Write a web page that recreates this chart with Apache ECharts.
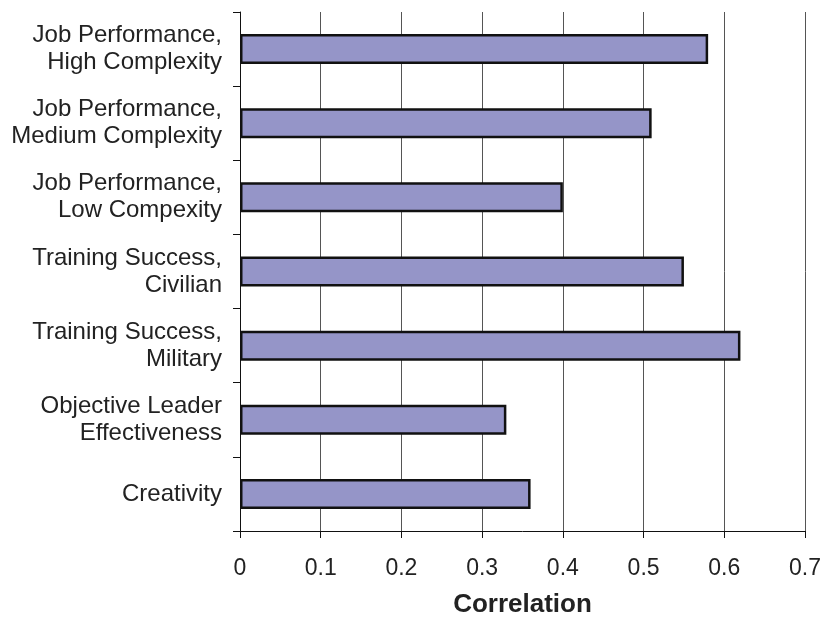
<!DOCTYPE html>
<html>
<head>
<meta charset="utf-8">
<script src="https://cdn.jsdelivr.net/npm/echarts@6/dist/echarts.min.js"></script>
<style>html,body{margin:0;padding:0;background:#fff}#c{width:822px;height:619px}</style>
</head>
<body>
<div id="c"></div>
<script>
const categories = [
  "Job Performance,\nHigh Complexity",
  "Job Performance,\nMedium Complexity",
  "Job Performance,\nLow Compexity",
  "Training Success,\nCivilian",
  "Training Success,\nMilitary",
  "Objective Leader\nEffectiveness",
  "Creativity"
];
const correlations = [0.58, 0.51, 0.40, 0.55, 0.62, 0.33, 0.36];
const xTicks = [0, 0.1, 0.2, 0.3, 0.4, 0.5, 0.6, 0.7];

const chart = echarts.init(document.getElementById('c'));
chart.setOption({
  animation: false,
  backgroundColor: '#fff',
  grid: { left: 240, right: 17, top: 12, bottom: 88, containLabel: false, outerBoundsMode: 'none' },
  xAxis: {
    type: 'value', min: 0, max: 0.7, interval: 0.1,
    name: 'Correlation', nameLocation: 'middle', nameGap: 61,
    nameTextStyle: { fontFamily: 'Liberation Sans, Arial', fontSize: 26, fontWeight: 'bold', color: '#222' },
    axisLine: { show: true, lineStyle: { color: '#111', width: 1 } },
    axisTick: { show: true, length: 7, lineStyle: { color: '#111' } },
    axisLabel: { margin: 26, fontFamily: 'Liberation Sans, Arial', fontSize: 23, color: '#222',
      formatter: v => { const t = xTicks.find(x => Math.abs(x - v) < 1e-9); return t === undefined ? '' : String(t); } },
    splitLine: { show: true, lineStyle: { color: '#555', width: 1 } }
  },
  yAxis: {
    type: 'category', data: categories, inverse: true,
    axisLine: { show: true, lineStyle: { color: '#111', width: 1 } },
    axisTick: { show: true, length: 7, lineStyle: { color: '#111' } },
    axisLabel: { margin: 18, fontFamily: 'Liberation Sans, Arial', fontSize: 24, color: '#222', lineHeight: 27, align: 'right' },
    splitLine: { show: false }
  },
  series: [{
    type: 'bar', data: correlations, barWidth: 30,
    itemStyle: { color: '#9595c8', borderColor: '#111', borderWidth: 2.5 }
  }]
});
</script>
</body>
</html>
